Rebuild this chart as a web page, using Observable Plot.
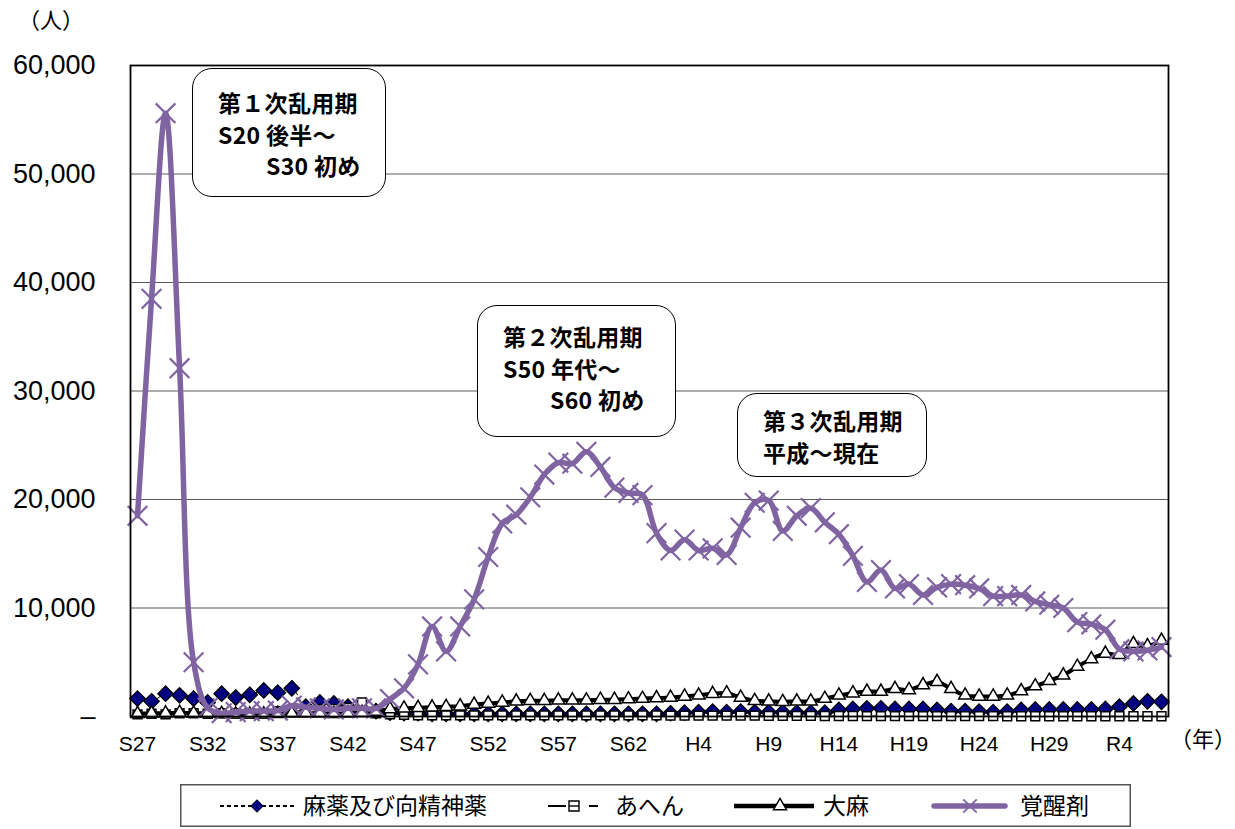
<!DOCTYPE html>
<html>
<head>
<meta charset="utf-8">
<script src="https://cdn.jsdelivr.net/npm/d3@7"></script>
<script src="https://cdn.jsdelivr.net/npm/@observablehq/plot@0.6"></script>
<style>
  body { margin:0; background:#fff; }
  #wrap { position:relative; width:1235px; height:829px; background:#fff; overflow:hidden; font-family:"Noto Sans CJK JP", sans-serif; }
  #chart { position:absolute; left:0; top:0; }
  .unit { position:absolute; font-size:22px; color:#000; }
  .note { position:absolute; background:#fff; border:1.5px solid #000; border-radius:20px; box-sizing:border-box;
          font-weight:bold; font-size:23px; color:#000; letter-spacing:0.3px; }
  .note div { height:31.5px; line-height:31.5px; white-space:nowrap; }
  #legend { position:absolute; left:180px; top:784px; }
</style>
</head>
<body>
<div id="wrap">
  <div id="chart"></div>
  <div class="unit" style="left:18px;top:2px;">（人）</div>
  <div class="unit" style="left:1170px;top:721px;">（年）</div>
  <div id="notes"></div>
  <div id="legend"></div>
</div>
<script>
// ---- data ----
const years = [1952,1953,1954,1955,1956,1957,1958,1959,1960,1961,1962,1963,1964,1965,1966,1967,1968,1969,
  1970,1971,1972,1973,1974,1975,1976,1977,1978,1979,1980,1981,1982,1983,1984,1985,1986,1987,1988,1989,
  1990,1991,1992,1993,1994,1995,1996,1997,1998,1999,2000,2001,2002,2003,2004,2005,2006,2007,2008,2009,
  2010,2011,2012,2013,2014,2015,2016,2017,2018,2019,2020,2021,2022,2023,2024,2025];

const seriesNames = ["麻薬及び向精神薬", "あへん", "大麻", "覚醒剤"];

// 麻薬及び向精神薬
const narcotics = [1650,1400,2100,1950,1650,1300,2100,1750,2000,2400,2200,2600,900,1300,1200,900,700,500,
  350,300,300,250,250,250,250,250,250,250,250,250,250,250,250,250,250,250,250,250,
  300,350,400,450,400,450,400,400,400,350,350,350,600,700,750,750,700,700,700,600,
  500,500,450,400,450,600,650,650,650,650,650,700,900,1200,1400,1350];

// あへん
const opium = [200,250,200,300,300,250,300,300,300,300,500,550,600,700,700,800,1300,300,
  200,150,100,100,100,100,100,100,100,100,100,100,100,100,100,100,100,100,100,100,
  80,80,80,80,80,80,80,60,60,60,60,50,50,50,40,40,40,40,30,30,
  30,30,30,30,20,20,20,20,20,20,20,20,20,20,20,20];

// 大麻
const cannabis = [250,300,300,350,300,300,250,200,200,200,250,300,300,300,250,300,350,450,
  700,750,800,850,900,950,1100,1200,1300,1400,1450,1450,1500,1500,1500,1550,1550,1600,1650,1700,
  1750,1850,1950,2100,2150,1750,1450,1400,1350,1400,1400,1650,1950,2150,2300,2300,2550,2450,2900,3200,
  2550,1950,1850,1850,1950,2350,2800,3300,3800,4600,5300,5800,5700,6700,6500,7000];

// 覚醒剤
const meth = [18500,38500,55600,32100,5000,800,300,400,500,500,550,1000,850,750,650,750,750,750,
  1600,2600,4800,8300,6000,8300,10800,14700,17800,18600,20200,22300,23400,23300,24400,23000,21100,20600,20400,16900,
  15300,16300,15300,15500,14900,17400,19700,19900,17100,18500,19200,17900,16800,14800,12400,13500,11800,12200,11200,11900,
  12200,12100,11800,11100,11100,11200,10600,10300,10000,8700,8500,8000,6200,6000,6100,6400];

const tickYears  = [1952,1957,1962,1967,1972,1977,1982,1987,1992,1997,2002,2007,2012,2017,2022];
const tickLabels = ["S27","S32","S37","S42","S47","S52","S57","S62","H4","H9","H14","H19","H24","H29","R4"];
const yTicks = [0,10000,20000,30000,40000,50000,60000];

// ---- build table ----
const rows = [];
const valuesByName = [narcotics, opium, cannabis, meth];
seriesNames.forEach((name, si) => {
  years.forEach((yr, i) => rows.push({series: name, year: yr, value: valuesByName[si][i]}));
});
const of = name => rows.filter(d => d.series === name);
const labelOf = new Map(tickYears.map((y, i) => [y, tickLabels[i]]));

const purple = "#8064A2";
const navy = "#000080";

const chart = Plot.plot({
  width: 1235,
  height: 778,
  marginLeft: 130,
  marginRight: 67,
  marginTop: 65,
  marginBottom: 62,
  style: {fontFamily: "'Liberation Sans', Arial, sans-serif", background: "transparent", color: "#000"},
  x: {type: "linear", domain: [1951.5, 2025.5]},
  y: {domain: [0, 60000]},
  marks: [
    Plot.ruleY(yTicks.filter(v => v > 0 && v < 60000), {stroke: "#5a5a5a", strokeWidth: 1}),
    Plot.axisY(yTicks, {tickSize: 0, tickPadding: 35, fontSize: 27, label: null,
      tickFormat: d => d === 0 ? "–" : d3.format(",")(d)}),
    Plot.axisX(tickYears, {tickSize: 0, tickPadding: 20, fontSize: 21, label: null,
      tickFormat: d => labelOf.get(d)}),
    // 麻薬及び向精神薬
    Plot.line(of(seriesNames[0]), {x: "year", y: "value", stroke: "#000", strokeWidth: 1, strokeDasharray: "4,3", curve: "catmull-rom"}),
    Plot.dot(of(seriesNames[0]), {x: "year", y: "value", symbol: "diamond2", r: 7, fill: navy, stroke: "#000", strokeWidth: 1.2}),
    // あへん
    Plot.line(of(seriesNames[1]), {x: "year", y: "value", stroke: "#000", strokeWidth: 1, strokeDasharray: "8,3,2,3", curve: "catmull-rom"}),
    Plot.dot(of(seriesNames[1]), {x: "year", y: "value", symbol: "square", r: 5, fill: "#fff", stroke: "#000", strokeWidth: 1.5}),
    // 大麻
    Plot.line(of(seriesNames[2]), {x: "year", y: "value", stroke: "#000", strokeWidth: 4, curve: "catmull-rom"}),
    Plot.dot(of(seriesNames[2]), {x: "year", y: "value", symbol: "triangle", r: 4.8, fill: "#fff", stroke: "#000", strokeWidth: 1.5}),
    // 覚醒剤
    Plot.line(of(seriesNames[3]), {x: "year", y: "value", stroke: purple, strokeWidth: 5.5, curve: "catmull-rom"}),
    Plot.dot(of(seriesNames[3]), {x: "year", y: "value", symbol: "times", r: 9, stroke: purple, strokeWidth: 2.2}),
    Plot.frame({stroke: "#000", strokeWidth: 1.8})
  ]
});
document.getElementById("chart").appendChild(chart);

// ---- annotation boxes ----
const notes = [
  {left: 192, top: 68, width: 194, height: 129, padTop: 18, padLeft: 25,
   lines: [["第１次乱用期", 0], ["S20 後半～", 0], ["S30 初め", 48]]},
  {left: 477, top: 305, width: 199, height: 132, padTop: 15, padLeft: 25,
   lines: [["第２次乱用期", 0], ["S50 年代～", 0], ["S60 初め", 47]]},
  {left: 737, top: 393, width: 190, height: 84, padTop: 11, padLeft: 25,
   lines: [["第３次乱用期", 0], ["平成～現在", 0]]}
];
const notesEl = document.getElementById("notes");
notes.forEach(n => {
  const box = document.createElement("div");
  box.className = "note";
  Object.assign(box.style, {left: n.left + "px", top: n.top + "px", width: n.width + "px", height: n.height + "px",
    paddingTop: n.padTop + "px", paddingLeft: n.padLeft + "px"});
  n.lines.forEach(([t, indent]) => {
    const l = document.createElement("div");
    l.textContent = t;
    l.style.marginLeft = indent + "px";
    box.appendChild(l);
  });
  notesEl.appendChild(box);
});

// ---- legend ----
const W = 951, H = 43, cy = 22;
const svg = d3.create("svg").attr("width", W).attr("height", H).style("overflow", "visible");
svg.append("rect").attr("x", 0.75).attr("y", 0.75).attr("width", W - 1.5).attr("height", H - 1.5)
  .attr("fill", "#fff").attr("stroke", "#555").attr("stroke-width", 1.5);
const sym = (type, size) => d3.symbol().type(type).size(size)();
// 1
svg.append("line").attr("x1", 40).attr("x2", 114).attr("y1", cy).attr("y2", cy).attr("stroke", "#000").attr("stroke-width", 1.8).attr("stroke-dasharray", "4,3");
svg.append("path").attr("d", sym(d3.symbolDiamond2, 100)).attr("transform", `translate(77,${cy})`).attr("fill", navy).attr("stroke", "#000");
// 2
svg.append("line").attr("x1", 368).attr("x2", 386).attr("y1", cy).attr("y2", cy).attr("stroke", "#000").attr("stroke-width", 2);
svg.append("line").attr("x1", 409).attr("x2", 418).attr("y1", cy).attr("y2", cy).attr("stroke", "#000").attr("stroke-width", 2);
svg.append("path").attr("d", sym(d3.symbolSquare, 100)).attr("transform", `translate(394,${cy})`).attr("fill", "#fff").attr("stroke", "#000").attr("stroke-width", 1.4);
svg.append("line").attr("x1", 389).attr("x2", 399).attr("y1", cy).attr("y2", cy).attr("stroke", "#000").attr("stroke-width", 1.4);
// 3
svg.append("line").attr("x1", 554).attr("x2", 634).attr("y1", cy).attr("y2", cy).attr("stroke", "#000").attr("stroke-width", 4.5);
svg.append("path").attr("d", sym(d3.symbolTriangle, 75)).attr("transform", `translate(600,${cy})`).attr("fill", "#fff").attr("stroke", "#000").attr("stroke-width", 1.4);
// 4
svg.append("line").attr("x1", 754).attr("x2", 825).attr("y1", cy).attr("y2", cy).attr("stroke", purple).attr("stroke-width", 5.5).attr("stroke-linecap", "round");
svg.append("path").attr("d", sym(d3.symbolTimes, 120)).attr("transform", `translate(790,${cy})`).attr("fill", "none").attr("stroke", purple).attr("stroke-width", 1.8);
const textX = [123, 435, 643, 840];
seriesNames.forEach((name, i) => {
  svg.append("text").attr("x", textX[i]).attr("y", cy).attr("dy", "0.36em")
    .attr("font-family", "'Noto Sans CJK JP', sans-serif").attr("font-size", 23).attr("fill", "#000").text(name);
});
document.getElementById("legend").appendChild(svg.node());
</script>
</body>
</html>
